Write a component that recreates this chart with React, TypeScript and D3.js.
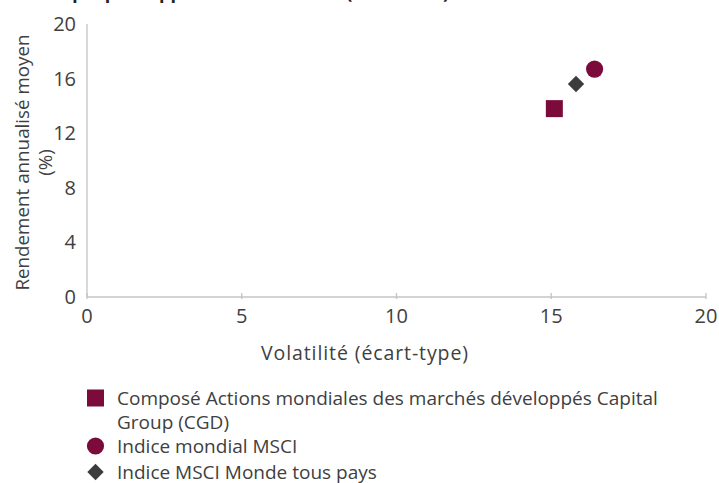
import React from "react";
import * as d3 from "d3";

const seriesNames = [
  "Composé Actions mondiales des marchés développés Capital Group (CGD)",
  "Indice mondial MSCI",
  "Indice MSCI Monde tous pays",
];
const legendLines = [
  ["Composé Actions mondiales des marchés développés Capital", "Group (CGD)"],
  ["Indice mondial MSCI"],
  ["Indice MSCI Monde tous pays"],
];
const volatility = [15.1, 16.4, 15.8];
const returns = [13.8, 16.7, 15.6];
const shapes = ["square", "circle", "diamond"];
const colors = ["#7b0b3b", "#7b0b3b", "#3c3c3c"];
const xTicks = [0, 5, 10, 15, 20];
const yTicks = [0, 4, 8, 12, 16, 20];
const titleText = "Risque par rapport au rendement (sur 10 ans)";
const xTitle = "Volatilité (écart-type)";
const yTitle = ["Rendement annualisé moyen", "(%)"];

const W = 719;
const H = 483;
const FONT = "'Open Sans', sans-serif";
const TEXT = "#404040";

function Marker({ shape, x, y, color }: { shape: string; x: number; y: number; color: string }) {
  if (shape === "square") return <rect x={x - 8.5} y={y - 8.5} width={17} height={17} fill={color} />;
  if (shape === "circle") return <circle cx={x} cy={y} r={8.6} fill={color} />;
  const d = 8.2;
  return <path d={`M${x},${y - d}L${x + d},${y}L${x},${y + d}L${x - d},${y}Z`} fill={color} />;
}

export default function App() {
  const x = d3.scaleLinear().domain([0, 20]).range([87, 706]);
  const y = d3.scaleLinear().domain([0, 20]).range([297, 24]);
  const axisColor = "#c4c4c4";
  const legendY = [398, 446, 472];
  return (
    <svg width={W} height={H} style={{ position: "absolute", left: 0, top: 0, background: "#fff" }}>
      <text x={40} y={-1} fontFamily={FONT} fontWeight={700} fontSize={18} fill="#222">{titleText}</text>
      {/* axes */}
      <line x1={x(0)} x2={x(0)} y1={y(20)} y2={y(0)} stroke={axisColor} strokeWidth={1.3} />
      <line x1={x(0)} x2={x(20)} y1={y(0)} y2={y(0)} stroke={axisColor} strokeWidth={1.3} />
      {xTicks.map((t) => (
        <g key={"xt" + t}>
          <line x1={x(t)} x2={x(t)} y1={y(0) - 4} y2={y(0) + 2} stroke={axisColor} strokeWidth={1.3} />
          <text x={x(t)} y={323} textAnchor="middle" fontFamily={FONT} fontSize={20} fill={TEXT}>{t}</text>
        </g>
      ))}
      {yTicks.map((t) => (
        <text key={"yt" + t} x={76} y={y(t) + 7} textAnchor="end" fontFamily={FONT} fontSize={20} fill={TEXT}>{t}</text>
      ))}
      <text x={365} y={360} textAnchor="middle" fontFamily={FONT} fontSize={19.5} letterSpacing={0.9} fill={TEXT}>{xTitle}</text>
      <g transform={`translate(29,162.5) rotate(-90)`}>
        <text x={0} y={0} textAnchor="middle" fontFamily={FONT} fontSize={18.8} fill={TEXT}>{yTitle[0]}</text>
        <text x={0} y={23} textAnchor="middle" fontFamily={FONT} fontSize={18.8} fill={TEXT}>{yTitle[1]}</text>
      </g>
      {volatility.map((v, i) => (
        <Marker key={seriesNames[i]} shape={shapes[i]} x={x(v)} y={y(returns[i])} color={colors[i]} />
      ))}
      {/* legend */}
      {legendLines.map((lines, i) => (
        <g key={"lg" + i}>
          <Marker shape={shapes[i]} x={95.5} y={legendY[i]} color={colors[i]} />
          {lines.map((l, j) => (
            <text key={j} x={117} y={legendY[i] + 7 + j * 24} fontFamily={FONT} fontSize={19} fill={TEXT}>{l}</text>
          ))}
        </g>
      ))}
    </svg>
  );
}
